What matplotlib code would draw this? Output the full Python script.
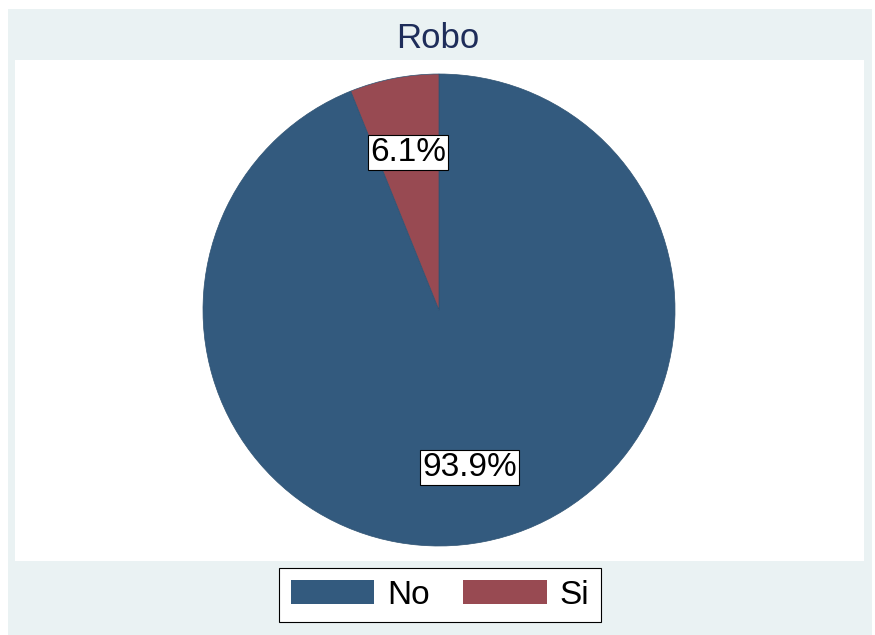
import matplotlib.pyplot as plt
from matplotlib.patches import Rectangle, Patch

plt.rcParams['font.family'] = ['Liberation Sans', 'DejaVu Sans']

# Data
labels = ["No", "Si"]
shares = [93.9, 6.1]
colors = ["#335A7E", "#984A52"]
title = "Robo"

W, H = 875, 635
fig = plt.figure(figsize=(W / 100, H / 100), dpi=100)
fig.patch.set_facecolor("white")

# Stata-like outer panel and inner plot region
fig.patches.append(Rectangle((8 / W, 0), (872 - 8) / W, (635 - 9) / H,
                             transform=fig.transFigure, facecolor="#EAF2F3",
                             edgecolor="none", zorder=-2))
fig.patches.append(Rectangle((15 / W, 1 - 561 / H), (864 - 15) / W, (561 - 60) / H,
                             transform=fig.transFigure, facecolor="white",
                             edgecolor="none", zorder=-1))

# Pie axes, centre (439, 310) px, radius 236 px
cx, cy, r = 439, 310, 236
ax = fig.add_axes([(cx - r) / W, (H - cy - r) / H, 2 * r / W, 2 * r / H])
ax.set_facecolor("none")
wedges, texts, autotexts = ax.pie(
    shares, colors=colors, startangle=90, counterclock=False,
    autopct="%1.1f%%", pctdistance=0.68,
    wedgeprops=dict(linewidth=0.5, edgecolor="#2e5272"),
    textprops=dict(fontsize=24, color="black"),
)
for t in autotexts:
    t.set_bbox(dict(facecolor="white", edgecolor="black", linewidth=0.8, pad=1.5))
ax.set_xlim(-1, 1)
ax.set_ylim(-1, 1)
ax.set_aspect("equal")
ax.axis("off")

fig.text(0.5, 1 - 38 / H, title, ha="center", va="center", fontsize=25, color="#1E2D5A")

handles = [Patch(facecolor=c, edgecolor="none") for c in colors]
leg = fig.legend(handles, labels, loc="center", ncol=2,
                 bbox_to_anchor=((282 + 598) / 2 / W, 1 - 595 / H),
                 fontsize=24, frameon=True, fancybox=False, framealpha=1,
                 handlelength=2.5, handleheight=0.7, handletextpad=0.4,
                 columnspacing=1.0, borderpad=0.35)
leg.get_frame().set_facecolor("white")
leg.get_frame().set_edgecolor("black")
leg.get_frame().set_linewidth(0.8)

fig.savefig("out.png", dpi=100)
